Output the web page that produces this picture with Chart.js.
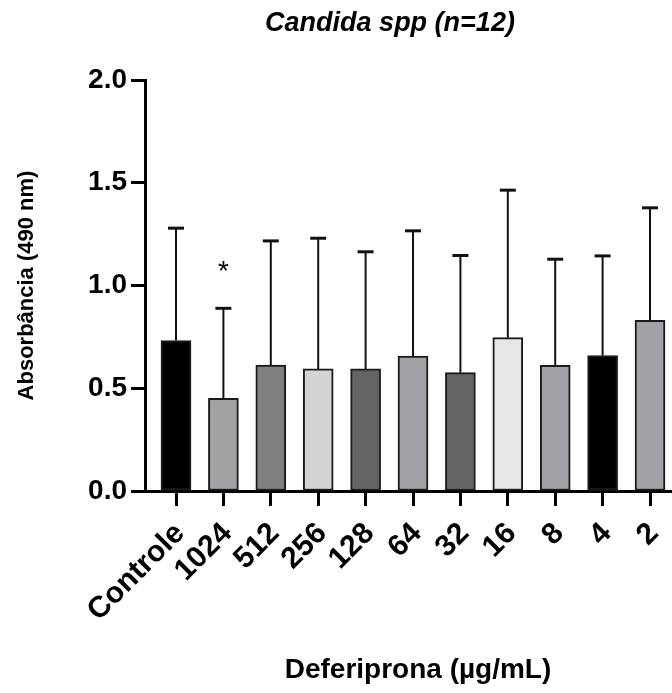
<!DOCTYPE html>
<html>
<head>
<meta charset="utf-8">
<script src="https://cdn.jsdelivr.net/npm/chart.js@4"></script>
<style>
  html, body { margin: 0; padding: 0; background: #fff; overflow: hidden; }
  #wrap { position: relative; width: 672px; height: 693px; }
  .txt { position: absolute; font-family: "Liberation Sans", Arial, sans-serif; font-weight: bold; color: #000; white-space: nowrap; line-height: 27px; }
  #title { top: 9px; left: 390px; transform: translateX(-50%); font-size: 27px; font-style: italic; }
  #xtitle { top: 655px; left: 418px; transform: translateX(-50%); font-size: 28px; }
</style>
</head>
<body>
<div id="wrap">
  <canvas id="barChart"></canvas>
  <div class="txt" id="title">Candida spp (n=12)</div>
  <div class="txt" id="xtitle">Deferiprona (µg/mL)</div>
</div>
<script>
// dados
const categories = ['Controle', '1024', '512', '256', '128', '64', '32', '16', '8', '4', '2'];
const means = [0.732, 0.451, 0.613, 0.594, 0.594, 0.657, 0.576, 0.746, 0.612, 0.659, 0.831];
const sd = [0.547, 0.438, 0.604, 0.636, 0.570, 0.609, 0.570, 0.718, 0.516, 0.485, 0.547];
const marks = ['', '*', '', '', '', '', '', '', '', '', ''];
const yTicks = [0, 0.5, 1.0, 1.5, 2.0];
const barColors = ['#000000', '#a2a1a6', '#808080', '#d4d4d4', '#646464', '#a2a1a6',
                   '#646464', '#e6e6e6', '#a2a1a6', '#000000', '#a2a1a6'];

const FONT = '"Liberation Sans", Arial, sans-serif';

// barras de erro (só o lado de cima) + asterisco
const errorBars = {
    id: 'errorBars',
    beforeDatasetsDraw(chart) {
        const c = chart.ctx, xs = chart.scales.x, ys = chart.scales.y;
        c.save();
        c.strokeStyle = '#111';
        means.forEach((m, i) => {
            const x = xs.getPixelForValue(i);
            const y0 = ys.getPixelForValue(m);
            const y1 = ys.getPixelForValue(m + sd[i]);
            c.lineWidth = 2;
            c.beginPath(); c.moveTo(x, y0); c.lineTo(x, y1); c.stroke();
            c.lineWidth = 3;
            c.beginPath(); c.moveTo(x - 8, y1); c.lineTo(x + 8, y1); c.stroke();
        });
        c.restore();
    },
    afterDatasetsDraw(chart) {
        const c = chart.ctx, xs = chart.scales.x, ys = chart.scales.y;
        c.save();
        c.fillStyle = '#000';
        c.font = '28px ' + FONT;
        c.textAlign = 'center';
        c.textBaseline = 'middle';
        marks.forEach((t, i) => {
            if (!t) return;
            c.fillText(t, xs.getPixelForValue(i), ys.getPixelForValue(means[i] + sd[i]) - 36);
        });
        c.restore();
    }
};

new Chart(document.getElementById('barChart'), {
    type: 'bar',
    data: {
        datasets: [{
            data: means.map((v, i) => ({ x: i, y: v })),
            backgroundColor: barColors,
            borderColor: '#1a1a1a',
            borderWidth: 2,
            borderSkipped: false,
            barThickness: 30
        }]
    },
    options: {
        responsive: true,
        maintainAspectRatio: false,
        animation: false,
        layout: { padding: { top: 80, right: 0, bottom: 0, left: 0 } },
        plugins: { legend: { display: false }, tooltip: { enabled: false } },
        scales: {
            x: {
                type: 'linear',
                offset: false,
                min: -0.654,
                max: 10.464,
                afterBuildTicks: (s) => { s.ticks = categories.map((_, i) => ({ value: i })); },
                afterFit: (s) => { s.height = 202; s.paddingRight = 0; },
                ticks: {
                    autoSkip: false,
                    minRotation: 45,
                    maxRotation: 45,
                    padding: 10,
                    labelOffset: 4,
                    color: '#000',
                    font: { family: FONT, size: 30, weight: 'bold' },
                    callback: (v) => categories[v]
                },
                grid: { offset: false, drawOnChartArea: false, drawTicks: true, tickLength: 15, tickWidth: 3, color: '#000' },
                border: { color: '#000', width: 3 }
            },
            y: {
                min: 0,
                max: 2,
                afterBuildTicks: (s) => { s.ticks = yTicks.map(v => ({ value: v })); },
                afterFit: (s) => { s.width = 145; },
                ticks: {
                    padding: 4,
                    color: '#000',
                    font: { family: FONT, size: 28, weight: 'bold' },
                    callback: (v) => v.toFixed(1)
                },
                grid: { drawOnChartArea: false, drawTicks: true, tickLength: 14, tickWidth: 3, color: '#000' },
                border: { color: '#000', width: 3 },
                title: {
                    display: true,
                    text: 'Absorbância (490 nm)',
                    color: '#000',
                    font: { family: FONT, size: 22, weight: 'bold' },
                    padding: { top: 14, bottom: 0 }
                }
            }
        }
    },
    plugins: [errorBars]
});
</script>
</body>
</html>
